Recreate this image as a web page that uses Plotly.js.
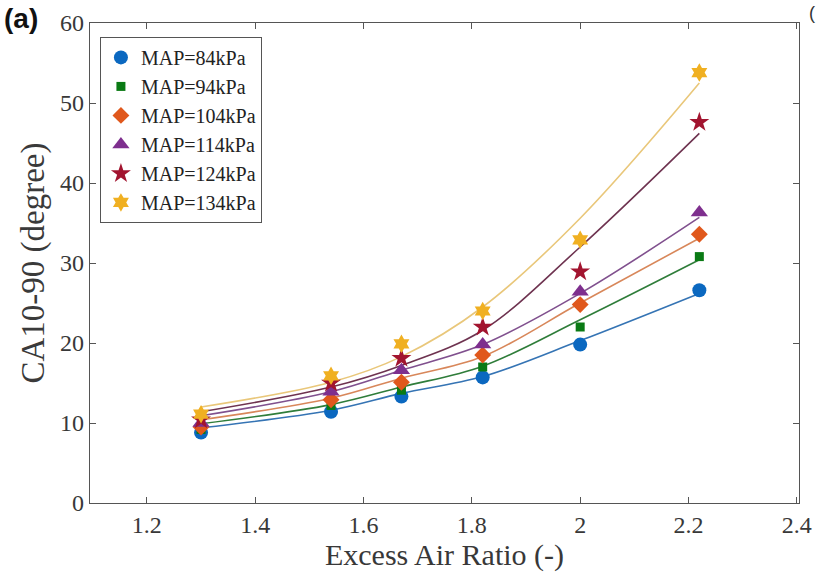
<!DOCTYPE html>
<html>
<head>
<meta charset="utf-8">
<script src="https://cdn.plot.ly/plotly-3.0.1.min.js"></script>
<style>html,body{margin:0;padding:0;background:#fff;}#chart{width:817px;height:574px;}</style>
</head>
<body>
<div id="chart"></div>
<script>
// Excess air ratio (x) for measured points and fitted curves
const excessAir = [1.3, 1.54, 1.67, 1.82, 2.0, 2.22];

// Measured CA10-90 (degree)
const map84  = [8.8, 11.4, 13.3, 15.7, 19.8, 26.6];
const map94  = [9.2, 12.2, 14.1, 17.0, 22.0, 30.8];
const map104 = [9.5, 12.9, 15.1, 18.5, 24.8, 33.6];
const map114 = [10.0, 13.9, 16.6, 19.8, 26.4, 36.3];
const map124 = [10.4, 15.0, 18.1, 22.0, 28.9, 47.6];
const map134 = [11.1, 15.9, 19.9, 24.0, 32.9, 53.8];

// Fitted curves at the same x positions
const fit84  = [9.4, 11.6, 13.7, 15.8, 20.3, 26.2];
const fit94  = [9.9, 12.3, 14.5, 17.1, 22.9, 30.4];
const fit104 = [10.4, 13.1, 15.6, 18.3, 25.0, 33.1];
const fit114 = [10.9, 13.9, 16.6, 19.8, 26.2, 35.7];
const fit124 = [11.4, 14.5, 17.2, 21.6, 32.0, 46.2];
const fit134 = [12.0, 15.1, 18.3, 24.5, 35.6, 52.5];

const seriesNames = ['MAP=84kPa', 'MAP=94kPa', 'MAP=104kPa', 'MAP=114kPa', 'MAP=124kPa', 'MAP=134kPa'];
const xTicks = [1.2, 1.4, 1.6, 1.8, 2, 2.2, 2.4];
const yTicks = [0, 10, 20, 30, 40, 50, 60];

const measured = [map84, map94, map104, map114, map124, map134];
const fits = [fit84, fit94, fit104, fit114, fit124, fit134];
const markerColors = ['#0b68c0', '#0a7a14', '#e0581c', '#7e2f8e', '#a2142f', '#f0b022'];
const lineColors = ['#3574b4', '#2f7d3a', '#d8875a', '#80508e', '#6e3350', '#e9c77a'];
const symbols = ['circle', 'square', 'diamond', 'triangle-up', 'star', 'hexagram'];
const sizes = [14, 9, 13, 15, 15, 14];

const traces = [];
fits.forEach((f, i) => {
  traces.push({
    x: excessAir, y: f, mode: 'lines', type: 'scatter',
    line: {color: lineColors[i], width: 1.6, shape: 'spline'},
    showlegend: false, hoverinfo: 'skip'
  });
});
measured.forEach((m, i) => {
  traces.push({
    x: excessAir, y: m, mode: 'markers', type: 'scatter', name: seriesNames[i],
    marker: {color: markerColors[i], symbol: symbols[i], size: sizes[i], line: {width: 0}}
  });
});

const serif = 'Liberation Serif, Times New Roman, serif';
const layout = {
  width: 817, height: 574,
  margin: {l: 90, r: 18, t: 23, b: 71},
  paper_bgcolor: '#fff', plot_bgcolor: '#fff',
  showlegend: true,
  legend: {
    x: 0.014, y: 0.971, xanchor: 'left', yanchor: 'top',
    bgcolor: '#fff', bordercolor: '#555', borderwidth: 1,
    font: {family: serif, size: 20, color: '#222'},
    tracegroupgap: 0
  },
  xaxis: {
    range: [1.095, 2.404], tickvals: xTicks, ticktext: xTicks.map(String),
    ticks: 'inside', ticklen: 6, tickcolor: '#555', tickwidth: 1,
    showline: true, linecolor: '#555', linewidth: 1.3, mirror: 'ticks',
    showgrid: false, zeroline: false,
    tickfont: {family: serif, size: 24, color: '#383838'},
    title: {text: 'Excess Air Ratio (-)', font: {family: serif, size: 30, color: '#383838'}, standoff: 2}
  },
  yaxis: {
    range: [0, 60], tickvals: yTicks, ticktext: yTicks.map(String),
    ticks: 'inside', ticklen: 6, tickcolor: '#555', tickwidth: 1,
    showline: true, linecolor: '#555', linewidth: 1.3, mirror: 'ticks',
    showgrid: false, zeroline: false,
    tickfont: {family: serif, size: 24, color: '#383838'},
    title: {text: 'CA10-90 (degree)', font: {family: serif, size: 33, color: '#3a3a3a'}, standoff: 5}
  },
  annotations: [
    {text: '<b>(a)</b>', xref: 'paper', yref: 'paper', x: -0.124, y: 1.01, xanchor: 'left', yanchor: 'middle',
     showarrow: false, font: {family: 'Liberation Sans, Arial, sans-serif', size: 28, color: '#111'}},
    {text: '(', xref: 'paper', yref: 'paper', x: 1.011, y: 1.02, xanchor: 'left', yanchor: 'middle',
     showarrow: false, font: {family: 'Liberation Sans, Arial, sans-serif', size: 18, color: '#333'}}
  ]
};

Plotly.newPlot('chart', traces, layout, {displayModeBar: false, staticPlot: true});
</script>
</body>
</html>
